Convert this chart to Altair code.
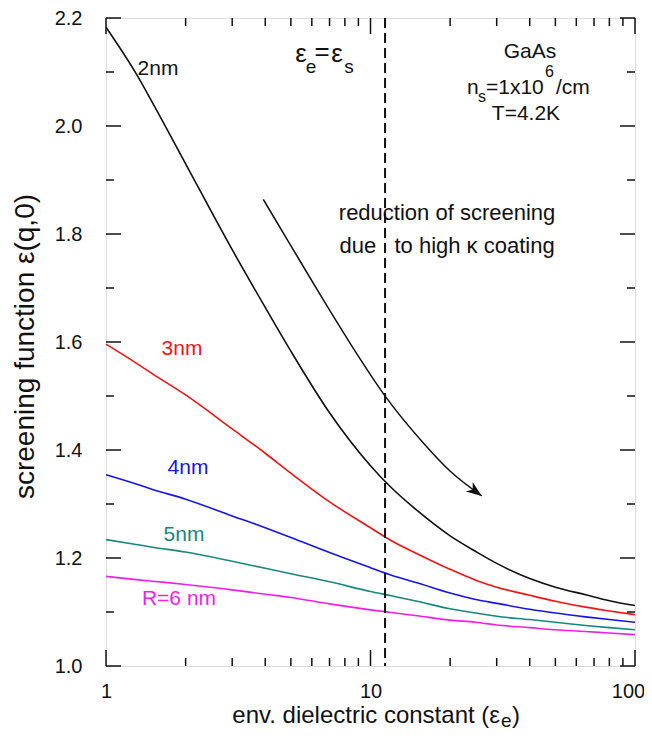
import altair as alt
import pandas as pd

# ---------------- data ----------------
eps_e = [1, 1.3, 1.5, 2, 3, 4, 5, 7, 10, 12, 15, 20, 25, 30, 40, 50, 65, 80, 100]
eps_2nm = [2.183, 2.097, 2.043, 1.930, 1.771, 1.664, 1.583, 1.469, 1.371, 1.330, 1.288,
           1.241, 1.212, 1.190, 1.162, 1.146, 1.132, 1.121, 1.112]
eps_3nm = [1.596, 1.561, 1.541, 1.502, 1.439, 1.394, 1.357, 1.304, 1.256, 1.232, 1.208,
           1.179, 1.159, 1.146, 1.131, 1.120, 1.109, 1.102, 1.095]
eps_4nm = [1.354, 1.337, 1.327, 1.309, 1.278, 1.256, 1.238, 1.210, 1.182, 1.168, 1.154,
           1.135, 1.123, 1.116, 1.105, 1.098, 1.091, 1.086, 1.081]
eps_5nm = [1.234, 1.225, 1.220, 1.211, 1.194, 1.181, 1.171, 1.156, 1.138, 1.130, 1.120,
           1.106, 1.098, 1.092, 1.086, 1.081, 1.075, 1.071, 1.067]
eps_6nm = [1.166, 1.160, 1.157, 1.151, 1.141, 1.133, 1.127, 1.115, 1.104, 1.099, 1.093,
           1.085, 1.081, 1.076, 1.071, 1.067, 1.064, 1.061, 1.058]

series_names = ["2nm", "3nm", "4nm", "5nm", "R=6 nm"]
series_values = [eps_2nm, eps_3nm, eps_4nm, eps_5nm, eps_6nm]
series_colors = ["#111111", "#ee1515", "#1515e6", "#17877f", "#f01ee8"]

# curve label positions (data coordinates)
label_x = [1.573, 1.938, 2.042, 1.972, 1.888]
label_y = [2.106, 1.587, 1.367, 1.243, 1.125]

# arrow "reduction of screening"
arrow_x = [3.933, 4.964, 6.443, 8.366, 11.51, 15.84, 19.98, 26.33]
arrow_y = [1.864, 1.781, 1.688, 1.598, 1.496, 1.413, 1.361, 1.315]

eps_s = 11.35  # substrate dielectric constant (dashed line)

y_major = [1.0, 1.2, 1.4, 1.6, 1.8, 2.0, 2.2]
y_minor = [1.1, 1.3, 1.5, 1.7, 1.9, 2.1]
x_major = [1, 10, 100]
x_minor = [2, 3, 4, 5, 6, 7, 8, 9, 20, 30, 40, 50, 60, 70, 80, 90]

# annotation texts (data coordinates)
note_text = ["GaAs", "T=4.2K"]
note_x = [40.1, 38.7]
note_y = [2.137, 2.023]
big_note_text = ["reduction of screening", "due \u00a0\u00a0to high \u03ba coating"]
big_note_x = [19.47, 19.47]
big_note_y = [1.838, 1.777]

eq_big_text = ["\u03b5", "=", "\u03b5"]
eq_big_x = [5.46, 6.56, 7.47]
eq_big_y = [2.1335, 2.137, 2.1335]
eq_sub_text = ["e", "s"]
eq_sub_x = [5.96, 8.29]
eq_sub_y = [2.1095, 2.1095]

ns_text = ["n", "=1x10", "/cm"]
ns_x = [23.17, 27.33, 50.28]
ns_y = [2.0707, 2.0707, 2.0707]
ns_small_text = ["s", "6"]
ns_small_x = [25.5, 45.68]
ns_small_y = [2.053, 2.1008]

x_title_main = "env. dielectric constant (\u03b5"
x_title_sub = "e"
x_title_end = ")"
y_title = "screening function \u03b5(q,0)"

# ---------------- tables ----------------
rows = []
for name, vals in zip(series_names, series_values):
    for e, v in zip(eps_e, vals):
        rows.append({"eps": e, "val": v, "series": name})
df_lines = pd.DataFrame(rows)
df_labels = pd.DataFrame({"eps": label_x, "val": label_y, "series": series_names})
df_arrow = pd.DataFrame({"eps": arrow_x, "val": arrow_y})
df_head = df_arrow.tail(1)

W, H = 529, 648
FONT = "Liberation Sans"

x_scale = alt.Scale(type="log", domain=[1, 100], nice=False)
y_scale = alt.Scale(domain=[1.0, 2.2], nice=False, zero=False)
color_scale = alt.Scale(domain=series_names, range=series_colors)

x_axis = alt.Axis(values=x_major, format="d", ticks=False, tickSize=0, domain=False,
                  grid=False, labelFontSize=20, labelPadding=15, labelFlush=False,
                  labelOffset={"condition": {"test": "datum.value == 100", "value": -7},
                               "value": 0},
                  title="")
y_axis = alt.Axis(values=y_major, format=".1f", ticks=False, tickSize=0, domain=False,
                  grid=False, labelFontSize=20, labelPadding=24,
                  title=y_title, titleFontSize=28,
                  titleFontWeight="normal", titleAngle=270, titleX=-81, titleY=328,
                  titleAlign="center", titleBaseline="middle")

X = alt.X("eps:Q", scale=x_scale, axis=x_axis)
Y = alt.Y("val:Q", scale=y_scale, axis=y_axis)

lines = alt.Chart(df_lines).mark_line(strokeWidth=1.6, interpolate="monotone").encode(
    x=X, y=Y,
    color=alt.Color("series:N", scale=color_scale, legend=None),
)

labels = alt.Chart(df_labels).mark_text(fontSize=21, font=FONT).encode(
    x=X, y=Y, text="series:N",
    color=alt.Color("series:N", scale=color_scale, legend=None),
)

arrow_line = alt.Chart(df_arrow).mark_line(strokeWidth=1.5, color="#111111",
                                           interpolate="monotone").encode(x=X, y=Y)
arrow_head = alt.Chart(df_head).mark_point(
    shape="M0,0 L-1,-0.38 L-0.72,0 L-1,0.38 Z", filled=True, size=950, angle=36,
    color="#111111", opacity=1).encode(x=X, y=Y)

dashed = alt.Chart(pd.DataFrame({"eps": [eps_s]})).mark_rule(
    strokeDash=[10, 5], strokeWidth=2, color="#111111").encode(x=X)


def text_layer(texts, xs, ys, size, align="center"):
    df = pd.DataFrame({"t": texts, "eps": xs, "val": ys})
    return alt.Chart(df).mark_text(fontSize=size, font=FONT, align=align,
                                   baseline="middle", color="#111111").encode(
        x=X, y=Y, text="t:N")


notes = text_layer(note_text, note_x, note_y, 21)
big_notes = text_layer(big_note_text, big_note_x, big_note_y, 22)
eq_big = text_layer(eq_big_text, eq_big_x, eq_big_y, 26)
eq_sub = text_layer(eq_sub_text, eq_sub_x, eq_sub_y, 19)
ns_main = text_layer(ns_text, ns_x, ns_y, 21, align="left")
ns_small = text_layer(ns_small_text, ns_small_x, ns_small_y, 16, align="left")

# x-axis title with a real subscript (pieces placed below the plot)
xt_main = alt.Chart(pd.DataFrame({"t": [x_title_main]})).mark_text(
    fontSize=24, font=FONT, align="right", baseline="middle", color="#111111").encode(
    text="t:N", x=alt.value(394), y=alt.value(H + 50))
xt_sub = alt.Chart(pd.DataFrame({"t": [x_title_sub]})).mark_text(
    fontSize=19, font=FONT, align="left", baseline="middle", color="#111111").encode(
    text="t:N", x=alt.value(395), y=alt.value(H + 55))
xt_end = alt.Chart(pd.DataFrame({"t": [x_title_end]})).mark_text(
    fontSize=24, font=FONT, align="left", baseline="middle", color="#111111").encode(
    text="t:N", x=alt.value(406), y=alt.value(H + 50))


def y_ticks(vals, length):
    df = pd.DataFrame({"val": vals})
    base = alt.Chart(df).mark_rule(strokeWidth=1.5, color="#111111")
    left = base.encode(y=Y, x=alt.value(0), x2=alt.value(length))
    right = base.encode(y=Y, x=alt.value(W), x2=alt.value(W - length))
    return [left, right]


def x_ticks(vals, length):
    df = pd.DataFrame({"eps": vals})
    base = alt.Chart(df).mark_rule(strokeWidth=1.5, color="#111111")
    bottom = base.encode(x=X, y=alt.value(H), y2=alt.value(H - length))
    top = base.encode(x=X, y=alt.value(0), y2=alt.value(length))
    return [bottom, top]


tick_layers = y_ticks(y_major, 15) + y_ticks(y_minor, 8) + x_ticks(x_major, 16) + x_ticks(x_minor, 8)

chart = alt.layer(
    lines, *tick_layers, dashed, arrow_line, arrow_head, labels,
    notes, big_notes, eq_big, eq_sub, ns_main, ns_small, xt_main, xt_sub, xt_end,
).properties(
    width=W, height=H,
    autosize=alt.AutoSizeParams(type="none"),
    padding={"left": 98, "top": 10, "right": 9, "bottom": 66},
).configure_view(
    stroke="#111111", strokeWidth=1.5
).configure(
    font=FONT
).configure_axis(
    labelColor="#111111", titleColor="#111111", labelFont=FONT, titleFont=FONT
)

chart.save("out.html", embed_options={"renderer": "svg", "actions": False})
